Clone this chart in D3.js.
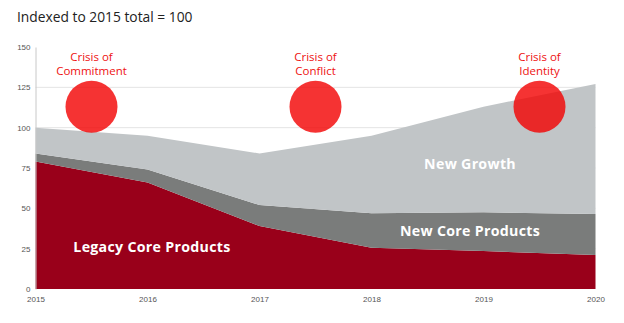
<!DOCTYPE html>
<html>
<head>
<meta charset="utf-8">
<script src="https://cdn.jsdelivr.net/npm/d3@7"></script>
<style>
  html, body { margin: 0; padding: 0; background: #fff; }
  svg { display: block; font-family: "Open Sans", sans-serif; }
</style>
</head>
<body>
<div id="chart"></div>
<script>
// index values, 2015 total = 100
const years = [2015, 2016, 2017, 2018, 2019, 2020];
const legacyCore = [79, 66, 39, 25.5, 23.5, 21];
const newCore = [5, 8, 13, 21.5, 24, 25.5];
const newGrowth = [16, 21, 32, 48, 65.5, 80.5];
const yTicks = [0, 25, 50, 75, 100, 125, 150];

const seriesNames = ["Legacy Core Products", "New Core Products", "New Growth"];
const seriesColors = ["#99001a", "#7a7c7b", "#c1c5c7"];

// crisis markers: position in years and index level
const crisisYears = [2015.5, 2017.5, 2019.5];
const crisisLevel = [113, 113, 113];
const crisisLines = [["Crisis of", "Commitment"], ["Crisis of", "Conflict"], ["Crisis of", "Identity"]];

// label anchors for each area (year, index)
const areaLabelPos = [[2016.04, 26.5], [2018.88, 36], [2018.88, 77.5]];

const width = 624, height = 323;
const margin = { top: 47, right: 28.5, bottom: 34, left: 35.5 };

const svg = d3.select("#chart").append("svg")
  .attr("width", width).attr("height", height);

const x = d3.scaleLinear().domain([2015, 2020]).range([margin.left, width - margin.right]);
const y = d3.scaleLinear().domain([0, 150]).range([height - margin.bottom, margin.top]);

svg.append("text")
  .attr("x", 17).attr("y", 22)
  .attr("font-size", 13.8).attr("fill", "#222")
  .text("Indexed to 2015 total = 100");

// gridlines
svg.append("g").selectAll("line")
  .data(yTicks.filter((d) => d > 0 && d < 150))
  .enter().append("line")
  .attr("x1", x(2015)).attr("x2", x(2020))
  .attr("y1", (d) => y(d)).attr("y2", (d) => y(d))
  .attr("stroke", "#e4e4e4").attr("stroke-width", 1);

const table = years.map((yr, i) => ({
  year: yr,
  [seriesNames[0]]: legacyCore[i],
  [seriesNames[1]]: newCore[i],
  [seriesNames[2]]: newGrowth[i]
}));
const stacked = d3.stack().keys(seriesNames)(table);

const area = d3.area()
  .x((d) => x(d.data.year))
  .y0((d) => y(d[0]))
  .y1((d) => y(d[1]));

svg.append("g").selectAll("path")
  .data(stacked)
  .enter().append("path")
  .attr("d", area)
  .attr("fill", (d, i) => seriesColors[i]);

// axes
const yAxis = svg.append("g")
  .attr("transform", `translate(${margin.left},0)`)
  .call(d3.axisLeft(y).tickValues(yTicks).tickSize(0).tickPadding(5));
yAxis.select(".domain").attr("stroke", "#c8c8c8");
yAxis.selectAll("text").attr("font-size", 8).attr("fill", "#555");

const xAxis = svg.append("g")
  .attr("transform", `translate(0,${y(0)})`)
  .call(d3.axisBottom(x).tickValues(years).tickFormat(d3.format("d")).tickSize(0).tickPadding(7));
xAxis.select(".domain").remove();
xAxis.selectAll("text").attr("font-size", 8).attr("fill", "#555");

// area labels
svg.append("g").selectAll("text")
  .data(seriesNames)
  .enter().append("text")
  .attr("x", (d, i) => x(areaLabelPos[i][0]))
  .attr("y", (d, i) => y(areaLabelPos[i][1]))
  .attr("text-anchor", "middle")
  .attr("dominant-baseline", "central")
  .attr("font-size", 14.2).attr("font-weight", "bold")
  .attr("letter-spacing", 0.3)
  .attr("fill", "#fff")
  .text((d) => d);

// crisis markers
const crisis = svg.append("g");
crisis.selectAll("circle")
  .data(crisisYears)
  .enter().append("circle")
  .attr("cx", (d) => x(d))
  .attr("cy", (d, i) => y(crisisLevel[i]))
  .attr("r", 26)
  .attr("fill", "#f20000")
  .attr("fill-opacity", 0.8);

crisis.selectAll("text")
  .data(crisisYears)
  .enter().append("text")
  .attr("x", (d) => x(d))
  .attr("y", 61)
  .attr("text-anchor", "middle")
  .attr("font-size", 11.5)
  .attr("fill", "#ee1111")
  .each(function (d, i) {
    const t = d3.select(this);
    crisisLines[i].forEach((line, k) => {
      t.append("tspan").attr("x", x(d)).attr("dy", k === 0 ? 0 : 13.5).text(line);
    });
  });
</script>
</body>
</html>
